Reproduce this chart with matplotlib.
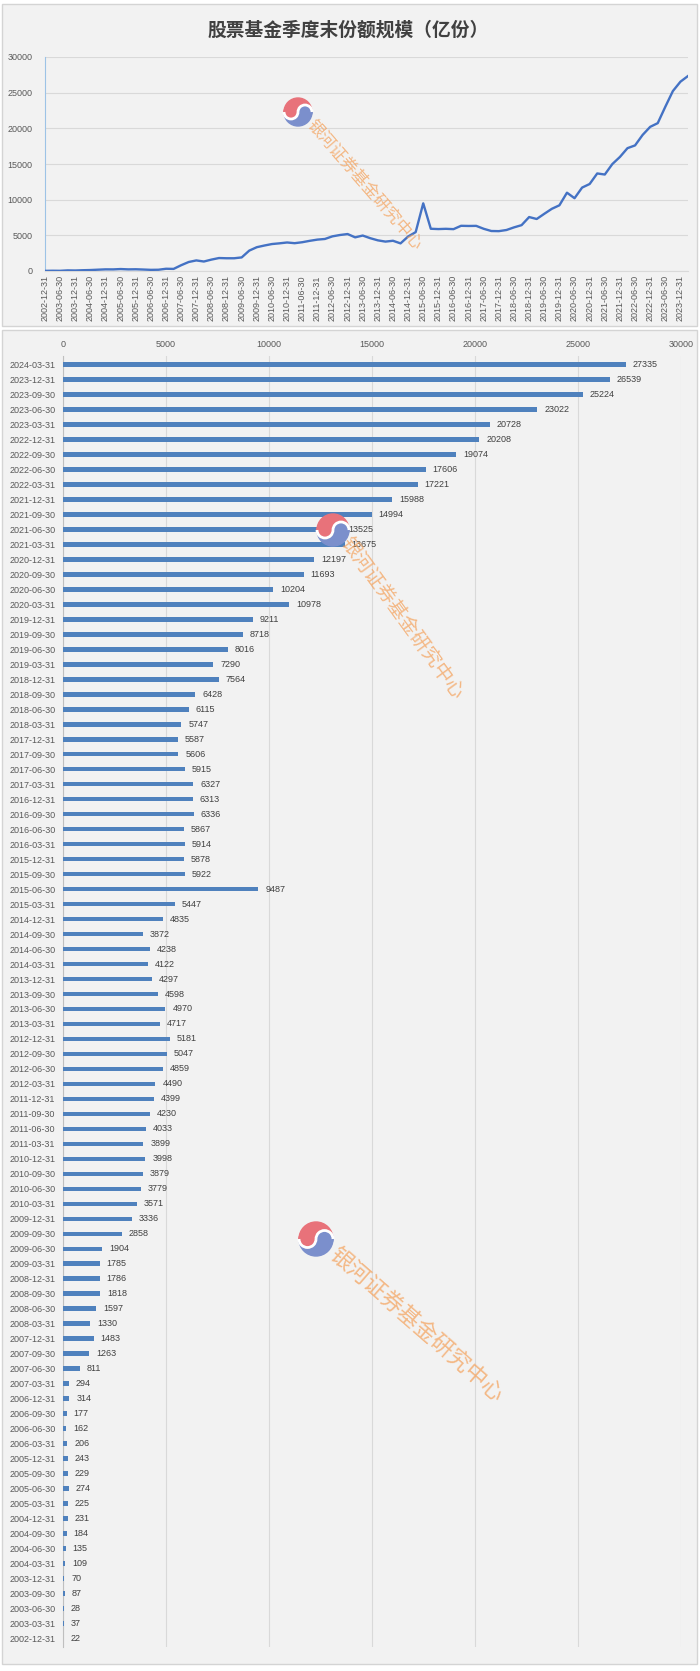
import matplotlib.pyplot as plt
import matplotlib.patches as mpatches
import matplotlib.transforms as mtransforms
import numpy as np

plt.rcParams['font.family'] = ['Liberation Sans', 'Noto Sans CJK SC', 'DejaVu Sans']

# quarter-end dates, oldest first
dates = ['2002-12-31',
         '2003-03-31', '2003-06-30', '2003-09-30', '2003-12-31',
         '2004-03-31', '2004-06-30', '2004-09-30', '2004-12-31',
         '2005-03-31', '2005-06-30', '2005-09-30', '2005-12-31',
         '2006-03-31', '2006-06-30', '2006-09-30', '2006-12-31',
         '2007-03-31', '2007-06-30', '2007-09-30', '2007-12-31',
         '2008-03-31', '2008-06-30', '2008-09-30', '2008-12-31',
         '2009-03-31', '2009-06-30', '2009-09-30', '2009-12-31',
         '2010-03-31', '2010-06-30', '2010-09-30', '2010-12-31',
         '2011-03-31', '2011-06-30', '2011-09-30', '2011-12-31',
         '2012-03-31', '2012-06-30', '2012-09-30', '2012-12-31',
         '2013-03-31', '2013-06-30', '2013-09-30', '2013-12-31',
         '2014-03-31', '2014-06-30', '2014-09-30', '2014-12-31',
         '2015-03-31', '2015-06-30', '2015-09-30', '2015-12-31',
         '2016-03-31', '2016-06-30', '2016-09-30', '2016-12-31',
         '2017-03-31', '2017-06-30', '2017-09-30', '2017-12-31',
         '2018-03-31', '2018-06-30', '2018-09-30', '2018-12-31',
         '2019-03-31', '2019-06-30', '2019-09-30', '2019-12-31',
         '2020-03-31', '2020-06-30', '2020-09-30', '2020-12-31',
         '2021-03-31', '2021-06-30', '2021-09-30', '2021-12-31',
         '2022-03-31', '2022-06-30', '2022-09-30', '2022-12-31',
         '2023-03-31', '2023-06-30', '2023-09-30', '2023-12-31',
         '2024-03-31']

# fund shares, 100 million units
shares = [22,
          37, 28, 87, 70,
          109, 135, 184, 231,
          225, 274, 229, 243,
          206, 162, 177, 314,
          294, 811, 1263, 1483,
          1330, 1597, 1818, 1786,
          1785, 1904, 2858, 3336,
          3571, 3779, 3879, 3998,
          3899, 4033, 4230, 4399,
          4490, 4859, 5047, 5181,
          4717, 4970, 4598, 4297,
          4122, 4238, 3872, 4835,
          5447, 9487, 5922, 5878,
          5914, 5867, 6336, 6313,
          6327, 5915, 5606, 5587,
          5747, 6115, 6428, 7564,
          7290, 8016, 8718, 9211,
          10978, 10204, 11693, 12197,
          13675, 13525, 14994, 15988,
          17221, 17606, 19074, 20208,
          20728, 23022, 25224, 26539,
          27335]

title = '股票基金季度末份额规模（亿份）'
watermark = '银河证券基金研究中心'

W, H = 700, 1671
def fx(px):
    return px / W
def fy(py):
    return 1 - py / H

fig = plt.figure(figsize=(W / 100, H / 100), dpi=100)
fig.patch.set_facecolor('white')

# two chart panels
for top, bot in [(4, 326), (330, 1664)]:
    fig.add_artist(mpatches.Rectangle((fx(2), fy(bot)), fx(695), (bot - top) / H,
                                      transform=fig.transFigure, facecolor='#f2f2f2',
                                      edgecolor='#d4d4d4', lw=1, zorder=0))

x = np.arange(len(dates))

#%% line chart
ax1 = fig.add_axes([fx(45), fy(271), fx(688) - fx(45), (271 - 57) / H])
ax1.set_facecolor('none')
ax1.plot(x, shares, color='#4472c4', lw=1.7, zorder=3)
ax1.set_xlim(0, len(dates) - 1)
ax1.set_ylim(0, 30000)
ax1.set_yticks(range(0, 30001, 5000))
ax1.set_xticks(x[::2])
ax1.set_xticklabels(dates[::2], rotation=90)
ax1.tick_params(axis='both', length=0, labelsize=6.5, labelcolor='#595959')
ax1.tick_params(axis='y', pad=9)
ax1.tick_params(axis='x', pad=3)
ax1.yaxis.grid(True, color='#d9d9d9', lw=0.8)
ax1.set_axisbelow(True)
for s in ['top', 'right']:
    ax1.spines[s].set_visible(False)
ax1.spines['left'].set_color('#9dc3e6')
ax1.spines['bottom'].set_color('#d9d9d9')
fig.text(0.497, fy(30), title, ha='center', va='center', fontsize=13.5,
         weight='bold', color='#404040', family=['Noto Sans CJK SC', 'DejaVu Sans'])

#%% bar chart
ax2 = fig.add_axes([fx(63), fy(1647), fx(681) - fx(63), (1647 - 356) / H])
ax2.set_facecolor('none')
ax2.barh(x, shares, height=0.32, color='#4f81bd', zorder=3)
for i, v in zip(x, shares):
    ax2.annotate(str(v), (v, i), xytext=(5, 0), textcoords='offset points',
                 ha='left', va='center', fontsize=6.5, color='#404040')
ax2.set_xlim(0, 30000)
ax2.set_ylim(-0.55, len(dates) - 0.45)
ax2.set_yticks(x)
ax2.set_yticklabels(dates)
ax2.set_xticks(range(0, 30001, 5000))
ax2.xaxis.tick_top()
ax2.tick_params(axis='both', length=0, labelsize=6.5, labelcolor='#595959')
ax2.tick_params(axis='y', pad=5.5)
ax2.tick_params(axis='x', pad=5)
ax2.xaxis.grid(True, color='#d9d9d9', lw=0.8)
ax2.set_axisbelow(True)
for s in ['top', 'right', 'bottom']:
    ax2.spines[s].set_visible(False)
ax2.spines['left'].set_color('#bfbfbf')

#%% watermarks: logo + rotated text
ident = mtransforms.IdentityTransform()
def logo(cx, cy, r):
    c = (cx, H - cy)
    red, blue = '#e8727a', '#7b8fcc'
    arts = [mpatches.Wedge(c, r, 0, 180, color=red),
            mpatches.Wedge(c, r, 180, 360, color=blue),
            mpatches.Circle((c[0] - r / 2, c[1]), r / 2, color=red),
            mpatches.Circle((c[0] + r / 2, c[1]), r / 2, color=blue),
            mpatches.Arc((c[0] - r / 2, c[1]), r, r, theta1=180, theta2=360,
                         color='white', lw=2),
            mpatches.Arc((c[0] + r / 2, c[1]), r, r, theta1=0, theta2=180,
                         color='white', lw=2)]
    for art in arts:
        art.set_transform(ident)
        art.set_zorder(10)
        fig.add_artist(art)

for (lx, ly, r), (tx, ty, rot, fs) in [((298, 112, 14), (310, 122, -49, 12)),
                                        ((333, 530, 16), (344, 540, -54, 14)),
                                        ((316, 1239, 17), (332, 1252, -41, 16))]:
    logo(lx, ly, r)
    fig.text(fx(tx), fy(ty), watermark, rotation=rot, rotation_mode='anchor',
             ha='left', va='center', fontsize=fs, color='#f4a460', alpha=0.75,
             family=['Noto Sans CJK SC', 'DejaVu Sans'], zorder=10)

fig.savefig('out.png', dpi=100)
